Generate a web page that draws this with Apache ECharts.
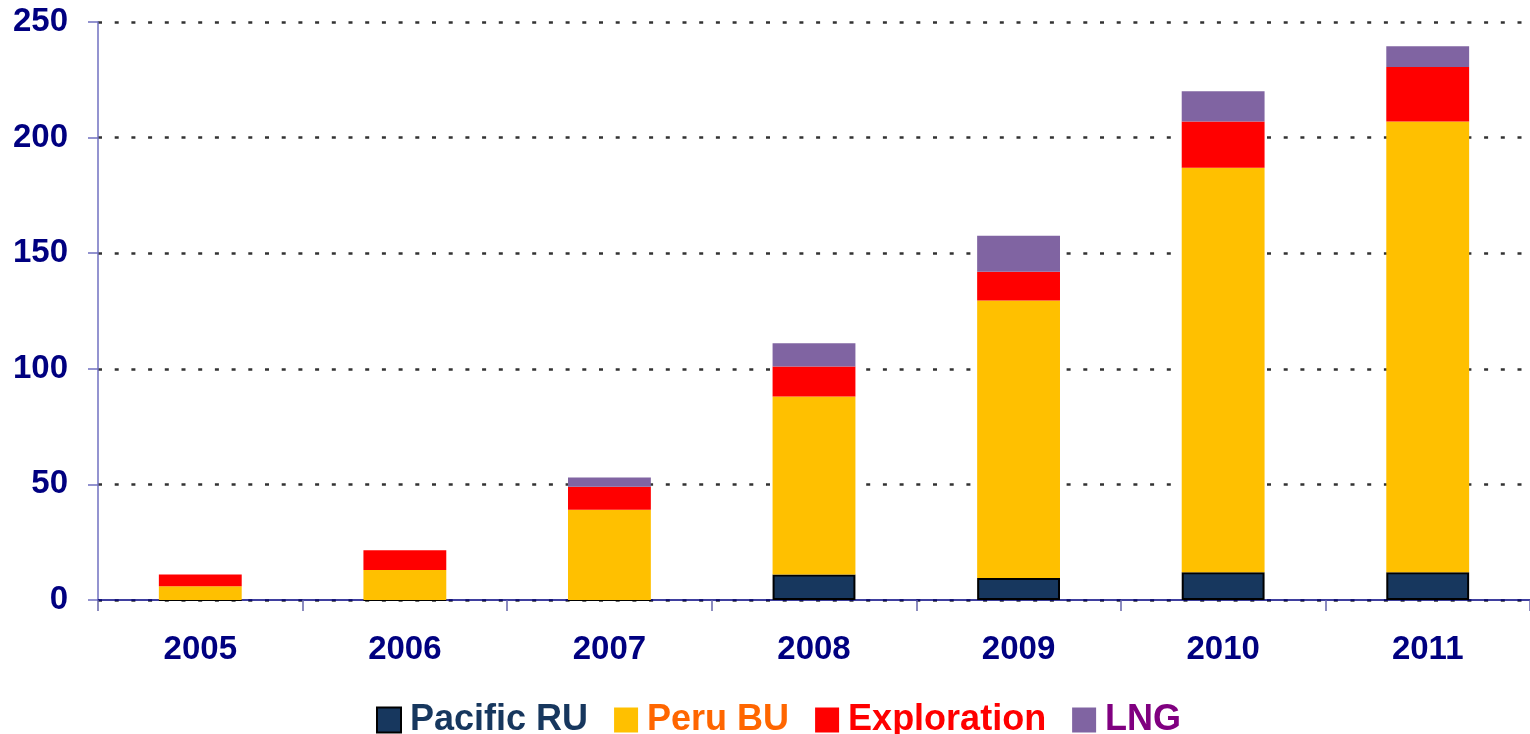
<!DOCTYPE html>
<html><head><meta charset="utf-8">
<script src="https://cdn.jsdelivr.net/npm/echarts@6/dist/echarts.min.js"></script>
<style>html,body{margin:0;padding:0;background:#fff}#c{width:1530px;height:734px}</style>
</head><body><div id="c"></div>
<script>
const categories = ['2005','2006','2007','2008','2009','2010','2011'];
const pacificRU = [0, 0, 0, 11, 9.5, 12, 12];
const peruBU = [6, 13, 39, 77, 120, 175, 195];
const exploration = [5, 8.5, 10, 13, 12.5, 20, 23.5];
const lng = [0, 0, 4, 10, 15.5, 13, 9];
const yTicks = [0, 50, 100, 150, 200, 250];

const chart = echarts.init(document.getElementById('c'));
const font = '"Liberation Sans", Arial, sans-serif';
chart.setOption({
  animation: false,
  grid: {left: 98, right: 0, top: 22, bottom: 134, containLabel: false},
  legend: {
    top: 697, left: 371, itemWidth: 24, itemHeight: 25, itemGap: 26, icon: 'rect',
    textStyle: {fontFamily: font, fontWeight: 'bold', fontSize: 36, padding: [0, 0, 0, 4]},
    data: [
      {name: 'Pacific RU', textStyle: {color: '#17375E'}, itemStyle: {borderColor: '#000', borderWidth: 2}},
      {name: 'Peru BU', textStyle: {color: '#FF6600'}},
      {name: 'Exploration', textStyle: {color: '#FF0000'}},
      {name: 'LNG', textStyle: {color: '#800080'}}
    ]
  },
  xAxis: {
    type: 'category', data: categories,
    axisLine: {lineStyle: {color: '#000080', width: 1.5}},
    axisTick: {show: true, length: 11, lineStyle: {color: '#6666aa', width: 1.5}},
    axisLabel: {margin: 33, color: '#000080', fontFamily: font, fontWeight: 'bold', fontSize: 33}
  },
  yAxis: {
    type: 'value', min: yTicks[0], max: yTicks[yTicks.length - 1], interval: 50,
    axisLine: {show: true, lineStyle: {color: '#7070c0', width: 1.5}},
    axisTick: {show: true, length: 10, lineStyle: {color: '#7070c0', width: 1.5}},
    axisLabel: {margin: 30, color: '#000080', fontFamily: font, fontWeight: 'bold', fontSize: 33},
    splitLine: {show: true, lineStyle: {color: '#333', width: 2.5, type: [4, 12.7]}}
  },
  series: [
    {name: 'Pacific RU', type: 'bar', stack: 't', data: pacificRU, barWidth: '40.5%',
     itemStyle: {color: '#17375E', borderColor: '#000', borderWidth: 2}},
    {name: 'Peru BU', type: 'bar', stack: 't', data: peruBU, itemStyle: {color: '#FFC000'}},
    {name: 'Exploration', type: 'bar', stack: 't', data: exploration, itemStyle: {color: '#FF0000'}},
    {name: 'LNG', type: 'bar', stack: 't', data: lng, itemStyle: {color: '#8064A2'}}
  ]
});
</script></body></html>
